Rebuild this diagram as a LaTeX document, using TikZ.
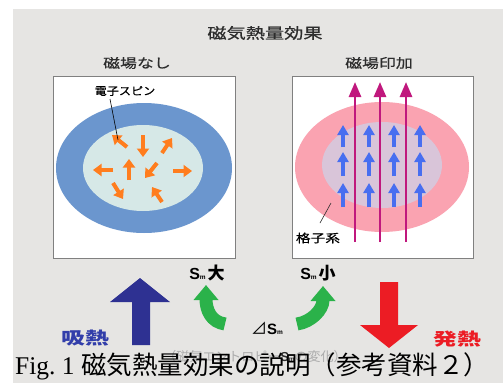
\documentclass[tikz,border=0pt]{standalone}
\usepackage{fontspec}
\usetikzlibrary{arrows.meta}
\setmainfont{Liberation Serif}
\newfontfamily\jp{Noto Sans CJK JP}
\newfontfamily\jpmed{Noto Sans CJK JP}[FakeBold=0.6]
\newfontfamily\lsans{Liberation Sans}

% horizontal stretch, font size, and the S_m symbol
\newcommand\hs[2]{\scalebox{#1}[1]{#2}}
\newcommand\fsz[1]{\fontsize{#1}{#1}\selectfont}
\newcommand\smsym[1]{{\lsans\bfseries\fsz{#1}S\fsz{6.5}m}}

\definecolor{pagebg}{RGB}{230,229,227}
\definecolor{framegray}{RGB}{128,128,128}
\definecolor{titlegray}{RGB}{45,45,45}
\definecolor{outerblue}{RGB}{107,150,206}
\definecolor{innermint}{RGB}{214,232,231}
\definecolor{spinorange}{RGB}{255,125,30}
\definecolor{outerpink}{RGB}{250,163,177}
\definecolor{innerlilac}{RGB}{217,197,217}
\definecolor{spinblue}{RGB}{72,110,240}
\definecolor{fieldmagenta}{RGB}{192,24,125}
\definecolor{cyclegreen}{RGB}{43,178,74}
\definecolor{absorbnavy}{RGB}{46,49,146}
\definecolor{absorbtext}{RGB}{50,62,170}
\definecolor{emitred}{RGB}{236,28,36}
\definecolor{faintgray}{RGB}{172,172,172}

\tikzset{
  panel/.style={draw=framegray, line width=0.9pt, fill=white},
  spinfree/.style={spinorange, line width=4pt, -{Triangle[width=12pt,length=8.5pt]}},
  spinup/.style={spinblue, line width=4.5pt, -{Triangle[width=11pt,length=10pt]}},
  fieldline/.style={fieldmagenta, line width=2.7pt, -{Triangle[width=12pt,length=15pt]}},
  greenturn/.style={cyclegreen, line width=13pt, -{Triangle[width=24pt,length=15pt]}},
  leader/.style={line width=0.6pt},
  txt/.style={inner sep=0pt},
}

\begin{document}
\begin{tikzpicture}[x=1pt,y=-1pt]
\useasboundingbox (0,0) rectangle (503,383);
\fill[white] (0,0) rectangle (503,383);
\fill[pagebg] (13,9) rectangle (503,383);

% heading and panel titles
\node[txt, text=titlegray, font=\jpmed\fsz{15}] (title) at (265,33) {\hs{1.28}{磁気熱量効果}};
\node[txt, text=titlegray, font=\jpmed\fsz{13}] (lblnone) at (137,63) {\hs{1.3}{磁場なし}};
\node[txt, text=titlegray, font=\jpmed\fsz{13}] (lblfield) at (379,63) {\hs{1.3}{磁場印加}};

% panels
\draw[panel] (53,76) rectangle (235,258);
\draw[panel] (292,76) rectangle (473,258);

% left: random spins
\fill[outerblue] (144,168) ellipse [x radius=88pt, y radius=65pt];
\fill[innermint] (143,168) ellipse [x radius=60pt, y radius=43pt];
\draw[spinfree] (127,147) -- (112,135);
\draw[spinfree] (143,135) -- (143,157);
\draw[spinfree] (162,153) -- (172,138);
\draw[spinfree] (113,170) -- (93,170);
\draw[spinfree] (129,180) -- (129,159);
\draw[spinfree] (157,163) -- (145,178);
\draw[spinfree] (173,171) -- (192,171);
\draw[spinfree] (113,183) -- (123,199);
\draw[spinfree] (162,202) -- (152,187);
\node[txt, font=\jpmed\fsz{11}] (spintxt) at (125,91) {\hs{1.1}{電子スピン}};
\coordinate (spinfoot) at (110,99);
\coordinate (spintip) at (118,140);
\draw[leader] (spinfoot) -- (spintip);

% right: aligned spins in the applied field
\fill[outerpink] (382,167) ellipse [x radius=87pt, y radius=65pt];
\fill[innerlilac] (382,165) ellipse [x radius=60pt, y radius=43pt];
\foreach \cx in {343,369,394,420}{
  \draw[spinup] (\cx,147) -- (\cx,125);
  \draw[spinup] (\cx,176) -- (\cx,152);
  \draw[spinup] (\cx,207) -- (\cx,183);
}
\foreach \fx in {355,380,406}{
  \draw[fieldline] (\fx,242) -- (\fx,82);
}
\node[txt, font=\jpmed\fsz{11.5}] (latticetxt) at (318,238) {\hs{1.28}{格子系}};
\coordinate (latticefoot) at (320,223);
\coordinate (latticetip) at (331,203);
\draw[leader, draw=titlegray] (latticefoot) -- (latticetip);

% entropy labels and the green turning arrows
\node[txt] (smbig) at (207,273) {\smsym{16}\hspace{2pt}{\jp\bfseries\fsz{17}大}};
\node[txt] (smsmall) at (318,273) {\smsym{16}\hspace{2pt}{\jp\bfseries\fsz{17}小}};
\node[txt] (dsm) at (267,328) {{\jp\fsz{16}⊿}\smsym{15}};
\draw[greenturn] (225,324) .. controls (211,322) and (206,310) .. (206,285);
\draw[greenturn] (297,324) .. controls (311,322) and (323,310) .. (323,286);

% heat flow
\fill[absorbnavy] (132,345) -- (132,302) -- (110,302) -- (140,278) -- (170,302) -- (150,302) -- (150,345) -- cycle;
\fill[emitred] (380,282) -- (398,282) -- (398,325) -- (418,325) -- (389,348) -- (360,325) -- (380,325) -- cycle;
\node[txt, text=absorbtext, font=\jp\bfseries\fsz{17}] (absorb) at (85,338) {\hs{1.4}{吸熱}};
\node[txt, text=emitred, font=\jp\bfseries\fsz{17}] (emit) at (457,339) {\hs{1.4}{発熱}};

% sub caption under the figure caption
\node[txt, text=faintgray, font=\jp\fsz{13}] (subcap) at (255,357) {（磁気エントロピー{\color{titlegray}\smsym{13}}の変化）};

% figure caption
\node[txt, anchor=west, font=\fsz{25.5}] (caption) at (15,366) {Fig.\ 1 {\jp 磁気熱量効果の説明（参考資料２）}};
\end{tikzpicture}
\end{document}
